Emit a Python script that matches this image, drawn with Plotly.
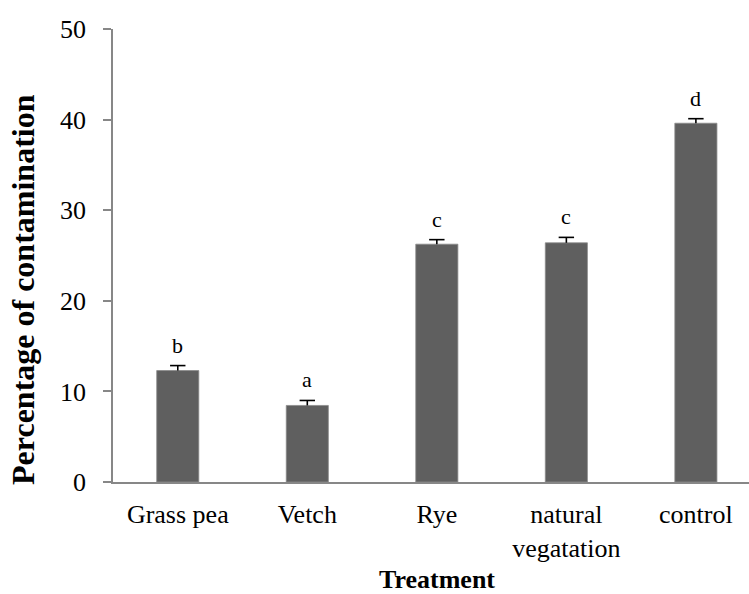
import plotly.graph_objects as go

categories = ["Grass pea", "Vetch", "Rye", "natural<br>vegatation", "control"]
values = [12.3, 8.45, 26.25, 26.4, 39.6]
errors = [0.55, 0.55, 0.5, 0.6, 0.5]
letters = ["b", "a", "c", "c", "d"]
y_ticks = [0, 10, 20, 30, 40, 50]

FONT = "Liberation Serif, Times New Roman, serif"
AXIS_GRAY = "#878787"

tops = [v + e for v, e in zip(values, errors)]

fig = go.Figure()
fig.add_trace(go.Bar(
    x=categories,
    y=values,
    width=0.325,
    marker=dict(color="#5f5f5f", line=dict(color="#8a8a8a", width=0.8)),
    error_y=dict(type="data", symmetric=False, array=errors,
                 arrayminus=[0] * len(errors),
                 color="black", thickness=1.6, width=0),
    showlegend=False,
))
# error-bar caps (upper only)
fig.add_trace(go.Scatter(
    x=categories, y=tops, mode="markers",
    marker=dict(symbol="line-ew", size=11, line=dict(color="black", width=1.6)),
    showlegend=False, hoverinfo="skip",
))

for c, top, t in zip(categories, tops, letters):
    fig.add_annotation(x=c, y=top, text=t, showarrow=False,
                       xref="x", yref="y", yanchor="bottom", yshift=6,
                       font=dict(family=FONT, size=22, color="black"))

fig.add_annotation(x=2, y=0, xref="x", yref="paper", text="<b>Treatment</b>",
                   showarrow=False, yanchor="middle", yshift=-97,
                   font=dict(family=FONT, size=26, color="black"))
fig.add_annotation(x=0, y=0.424, xref="paper", yref="paper",
                   text="<b>Percentage of contamination</b>", textangle=-90,
                   showarrow=False, xanchor="center", yanchor="middle", xshift=-90,
                   font=dict(family=FONT, size=32, color="black"))

fig.update_layout(
    width=749, height=594,
    margin=dict(l=113, r=0, t=29, b=112),
    paper_bgcolor="white", plot_bgcolor="white",
    font=dict(family=FONT, color="black"),
    xaxis=dict(range=[-0.5, 4.41], showline=True, linecolor=AXIS_GRAY, linewidth=1.5,
               ticks="", ticklabelstandoff=8,
               tickfont=dict(family=FONT, size=26, color="black"),
               showgrid=False, zeroline=False),
    yaxis=dict(range=[0, 50], tickvals=y_ticks, showline=True, linecolor=AXIS_GRAY,
               linewidth=1.5, ticks="outside", ticklen=8, tickcolor=AXIS_GRAY, tickwidth=1.5,
               ticklabelstandoff=12,
               tickfont=dict(family=FONT, size=26, color="black"),
               showgrid=False, zeroline=False),
)

fig.write_html("out.html", config={"displayModeBar": False},
               post_script="document.body.style.margin='0';document.body.style.overflow='hidden';")
